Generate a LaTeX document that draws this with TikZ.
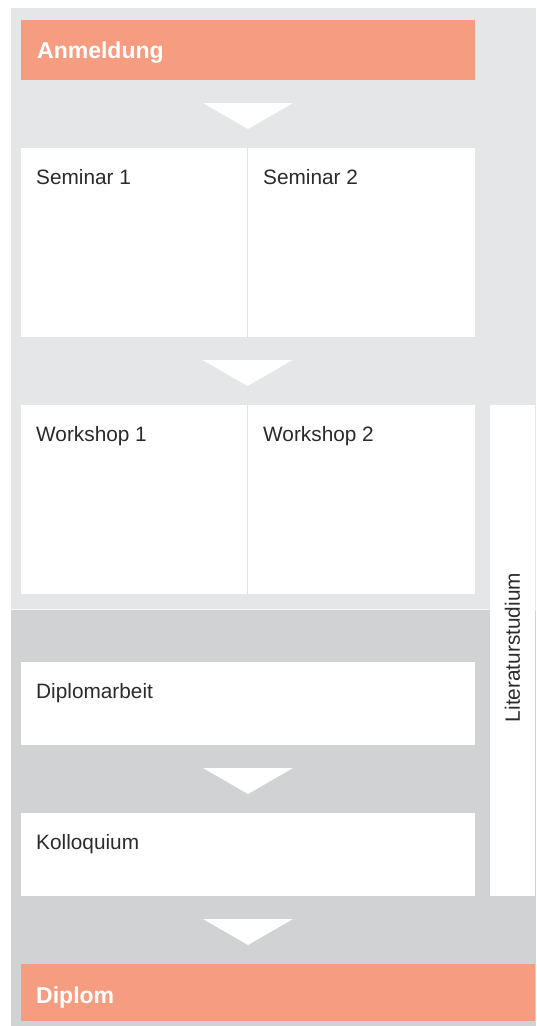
\documentclass[tikz,border=0pt]{standalone}
\usepackage{fontspec}
\setmainfont{Liberation Sans}
\usetikzlibrary{calc}
\definecolor{salmon}{HTML}{F69C80}
\definecolor{lightbg}{HTML}{E5E6E8}
\definecolor{darkbg}{HTML}{D1D2D4}
\definecolor{txt}{HTML}{2B2B2B}
\definecolor{divcol}{HTML}{CFE5E8}
\begin{document}
\begin{tikzpicture}[x=1pt,y=-1pt,
  box/.style={fill=white,draw=none,inner sep=0pt,outer sep=0pt,anchor=north west},
  headbox/.style={fill=salmon,draw=none,inner sep=0pt,outer sep=0pt,anchor=north west},
  boxtext/.style={anchor=base west,inner sep=0pt,text=txt,font=\fontsize{20.8}{24}\selectfont},
  headtext/.style={anchor=base west,inner sep=0pt,text=white,font=\bfseries\fontsize{23}{27}\selectfont},
  tri/.style={fill=white,draw=none}
]
\useasboundingbox (0,0) rectangle (536,1026);
% backgrounds
\fill[white] (0,0) rectangle (536,1026);
\fill[lightbg] (11,8) rectangle (536,610);
\fill[darkbg] (11,610) rectangle (536,1026);
\draw[white!60!lightbg,line width=1pt] (11,609.5) -- (536,609.5);

% boxes
\node[headbox,minimum width=454pt,minimum height=60pt] (anm) at (21,20) {};
\node[box,minimum width=226pt,minimum height=189pt] (sem1) at (21,148) {};
\node[box,minimum width=227pt,minimum height=189pt] (sem2) at (248,148) {};
\node[box,minimum width=226pt,minimum height=189pt] (ws1) at (21,405) {};
\node[box,minimum width=227pt,minimum height=189pt] (ws2) at (248,405) {};
\node[box,minimum width=45pt,minimum height=491pt] (lit) at (490,405) {};
\node[box,minimum width=454pt,minimum height=83pt] (dip) at (21,662) {};
\node[box,minimum width=454pt,minimum height=83pt] (kol) at (21,813) {};
\node[headbox,minimum width=514pt,minimum height=57pt] (dpl) at (21,964) {};

% dividers
\draw[divcol,line width=1pt] (sem1.north east) -- (sem1.south east);
\draw[divcol,line width=1pt] (ws1.north east) -- (ws1.south east);

% texts
\node[headtext] (anmt) at ($(anm.north west)+(16,38.5)$) {Anmeldung};
\node[headtext] (dplt) at ($(dpl.north west)+(15,39)$) {Diplom};
\node[boxtext] (sem1t) at ($(sem1.north west)+(15,36)$) {Seminar 1};
\node[boxtext] (sem2t) at ($(sem2.north west)+(15,36)$) {Seminar 2};
\node[boxtext] (ws1t) at ($(ws1.north west)+(15,36)$) {Workshop 1};
\node[boxtext] (ws2t) at ($(ws2.north west)+(15,36)$) {Workshop 2};
\node[boxtext] (dipt) at ($(dip.north west)+(15,36)$) {Diplomarbeit};
\node[boxtext] (kolt) at ($(kol.north west)+(15,36)$) {Kolloquium};
\node[inner sep=0pt,text=txt,font=\fontsize{20.8}{24}\selectfont,rotate=90] (litt) at ($(lit.north)+(0,242.5)$) {Literaturstudium};

% downward triangles between stages
\coordinate (c1) at ($(anm.south)!0.5!(anm.south |- sem1.north)$);
\coordinate (c2) at ($(sem1.south east)!0.5!(sem1.south east |- ws1.north)$);
\coordinate (c4) at ($(dip.south)!0.5!(dip.south |- kol.north)$);
\coordinate (c5) at ($(kol.south)!0.5!(kol.south |- dpl.north)$);
\fill[tri] (c1) ++(-45,-11) -- ++(90,0) -- ++(-45,26) -- cycle;
\fill[tri] (c2) ++(-44.5,-11) -- ++(90,0) -- ++(-45,26) -- cycle;
\fill[tri] (c4) ++(-45,-11) -- ++(90,0) -- ++(-45,26) -- cycle;
\fill[tri] (c5) ++(-45,-11) -- ++(90,0) -- ++(-45,26) -- cycle;
\end{tikzpicture}
\end{document}
